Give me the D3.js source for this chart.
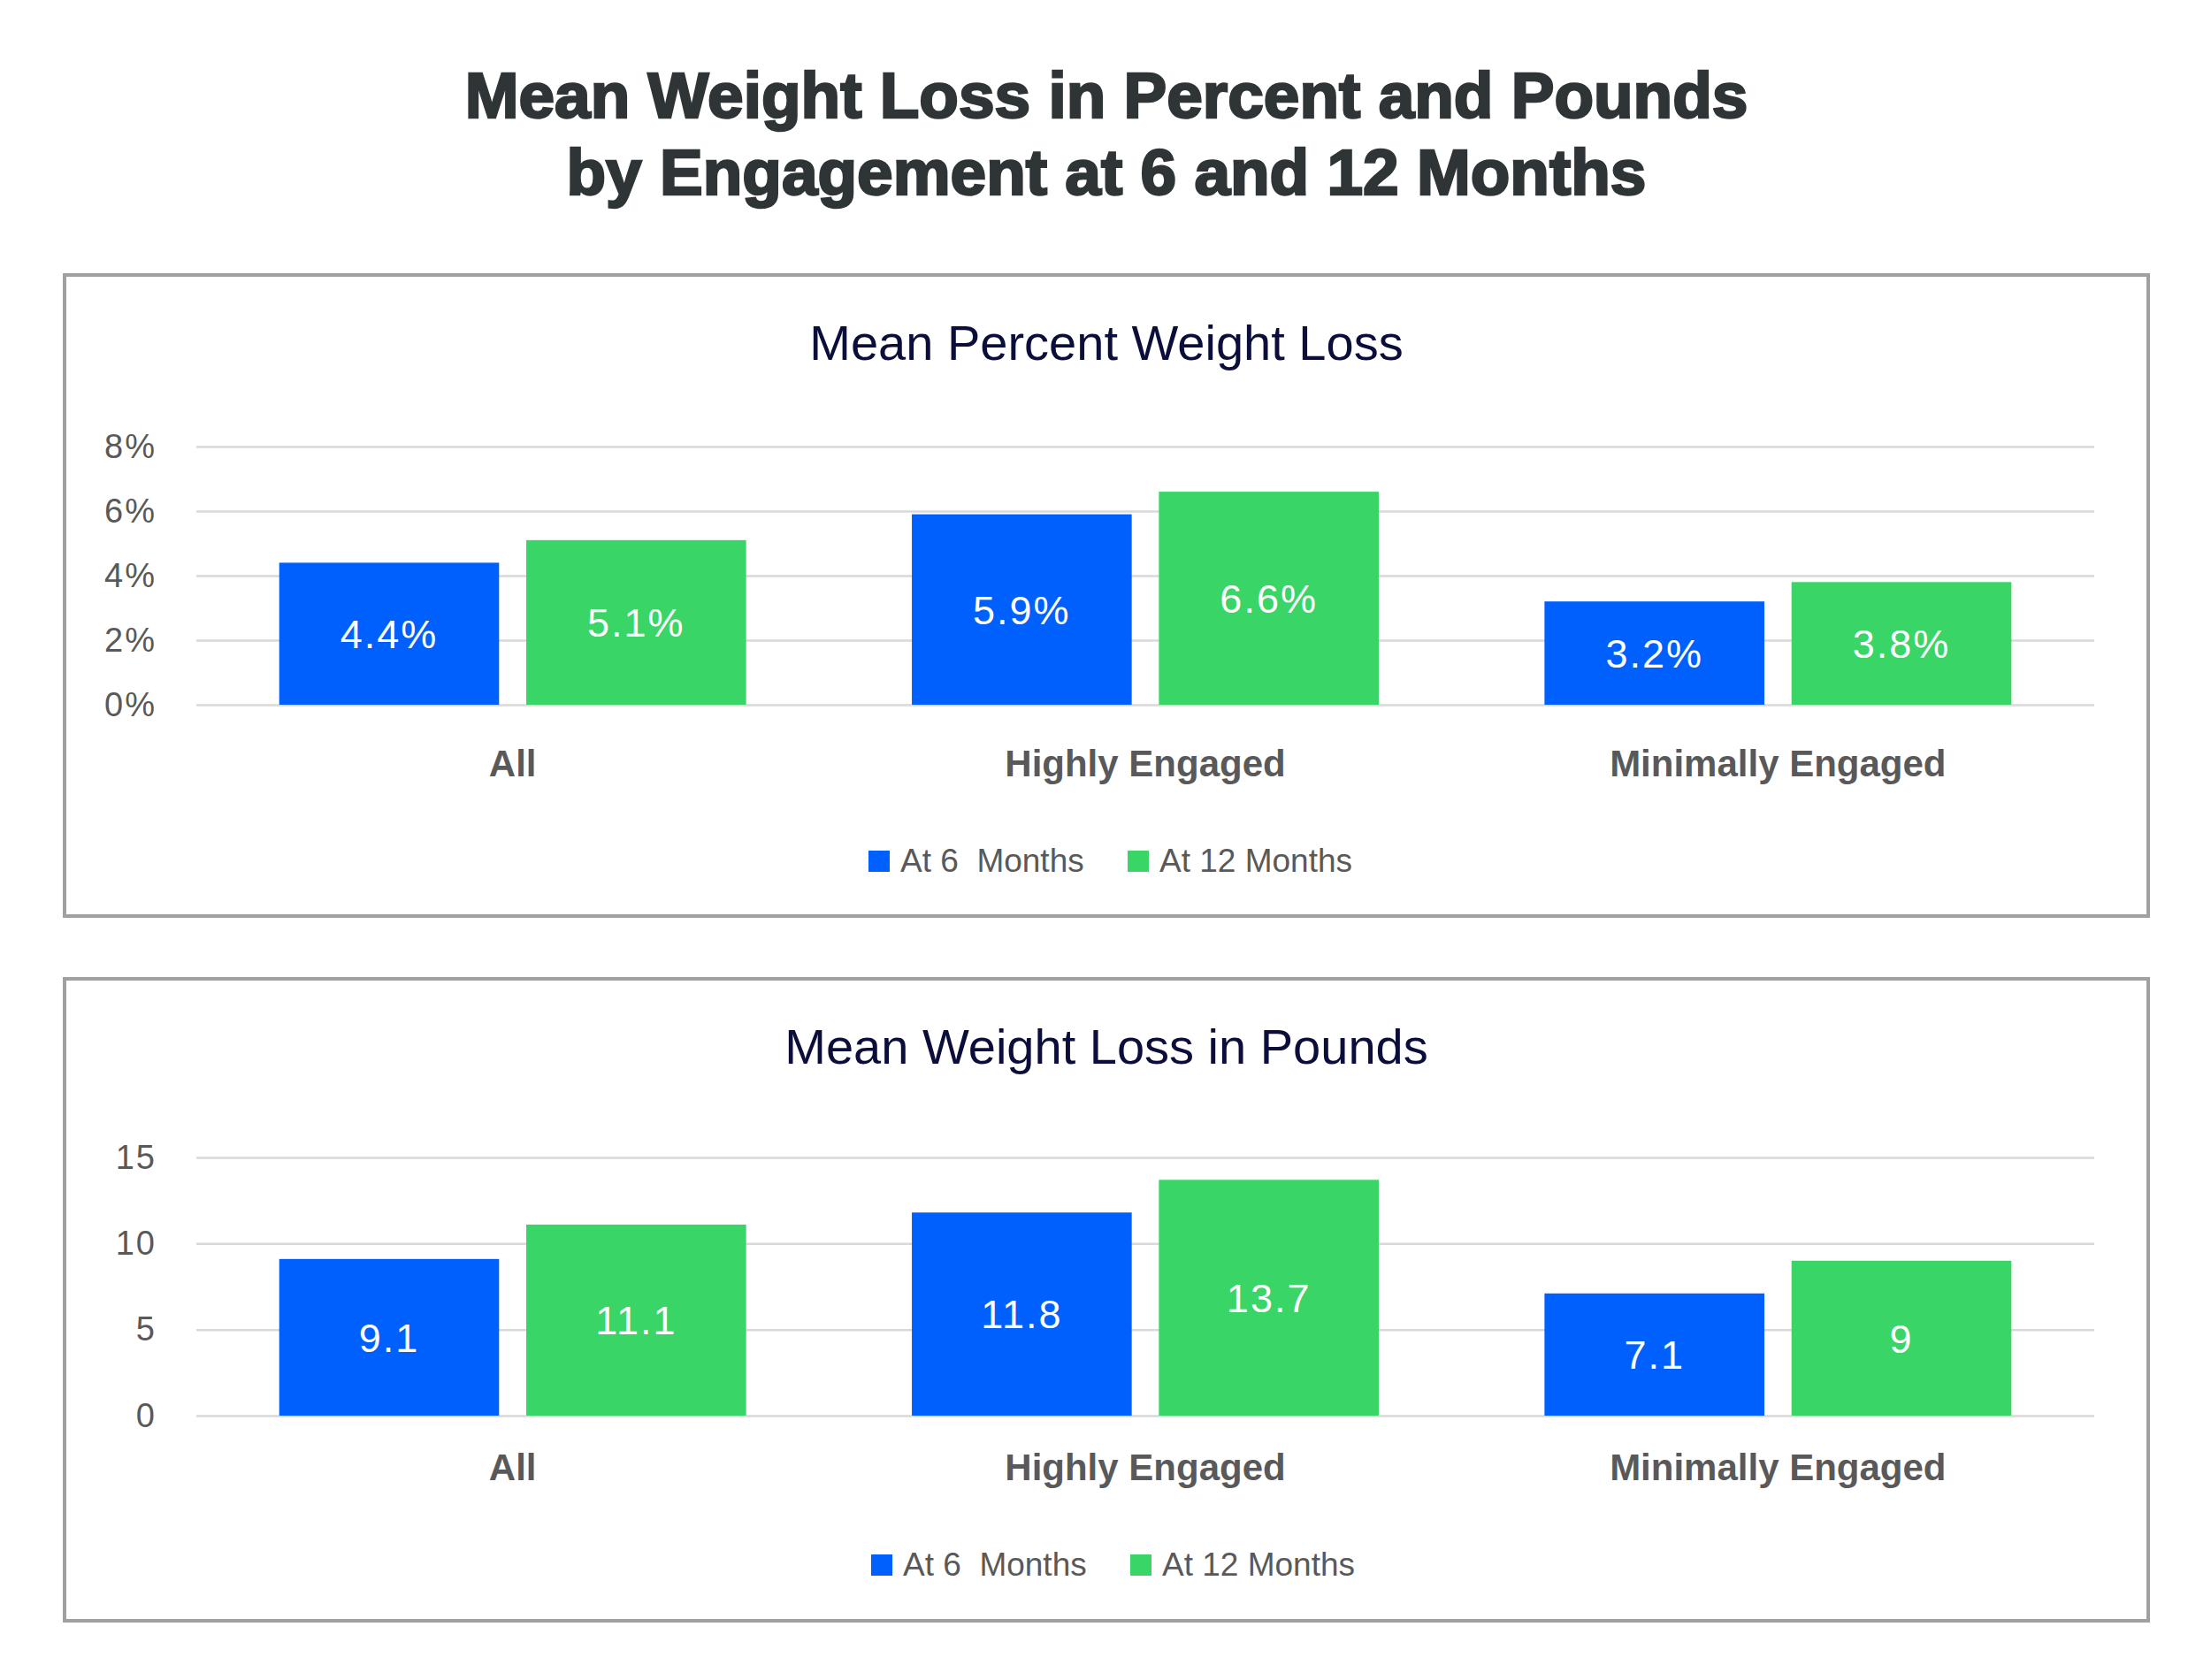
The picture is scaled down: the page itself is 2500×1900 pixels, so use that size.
<!DOCTYPE html>
<html lang="en">

<head>
  <meta charset="UTF-8">
  <title>Mean Weight Loss</title>
  <style>
    body { margin: 0; background: #fff; }
    text { font-family: "Liberation Sans", Arial, sans-serif; }
  </style>
</head>

<body>

  <script src="https://cdn.jsdelivr.net/npm/d3@7/dist/d3.min.js"></script>
  <script>
    var width = 2500;
    var height = 1900;

    // data
    var categories = ["All", "Highly Engaged", "Minimally Engaged"];
    var seriesNames = ["At 6  Months", "At 12 Months"];
    var percent6 = [4.4, 5.9, 3.2];
    var percent12 = [5.1, 6.6, 3.8];
    var pounds6 = [9.1, 11.8, 7.1];
    var pounds12 = [11.1, 13.7, 9];
    var percentTicks = [0, 2, 4, 6, 8];
    var poundTicks = [0, 5, 10, 15];

    var colors = ["#0060fe", "#39d566"];

    var left = 222, right = 2368;   // plot area
    var cx = 1251;

    var svg = d3.select("body")
      .append("svg")
      .attr("width", width)
      .attr("height", height);

    // main title
    var title = svg.append("text")
      .attr("text-anchor", "middle")
      .style("font-size", "73px")
      .style("font-weight", "bold")
      .style("fill", "#2f3437")
      .style("stroke", "#2f3437")
      .style("stroke-width", 2.5);
    title.append("tspan").attr("x", cx).attr("y", 133).text("Mean Weight Loss in Percent and Pounds");
    title.append("tspan").attr("x", cx).attr("y", 220).text("by Engagement at 6 and 12 Months");

    // one panel per measure
    var panels = [
      { top: 311, bottom: 1036, title: "Mean Percent Weight Loss", a: percent6, b: percent12,
        y0: 797, y1: 505, max: 8, ticks: percentTicks, legX: [982, 1275],
        fmt: function (d) { return d + "%"; } },
      { top: 1107, bottom: 1833, title: "Mean Weight Loss in Pounds", a: pounds6, b: pounds12,
        y0: 1601, y1: 1309, max: 15, ticks: poundTicks, legX: [985, 1278],
        fmt: function (d) { return String(d); } }
    ];

    var x0 = d3.scaleBand()
      .domain(categories)
      .range([left, right])
      .paddingInner(0.262)
      .paddingOuter(0.131);

    var x1 = d3.scaleBand()
      .domain([0, 1])
      .range([0, x0.bandwidth()])
      .paddingInner(0.11);

    panels.forEach(function (p) {
      var g = svg.append("g");

      g.append("rect")
        .attr("x", 73)
        .attr("y", p.top)
        .attr("width", 2429 - 73)
        .attr("height", p.bottom - p.top)
        .style("fill", "none")
        .style("stroke", "#a0a0a0")
        .style("stroke-width", 4);

      g.append("text")
        .attr("x", cx)
        .attr("y", p.top + 96)
        .attr("text-anchor", "middle")
        .style("font-size", "56px")
        .style("fill", "#0b0e3a")
        .text(p.title);

      var y = d3.scaleLinear()
        .domain([0, p.max])
        .range([p.y0, p.y1]);

      // gridlines + tick labels
      var yAxis = d3.axisLeft(y)
        .tickValues(p.ticks)
        .tickSize(-(right - left))
        .tickPadding(45)
        .tickFormat(p.fmt);

      var ax = g.append("g")
        .attr("transform", "translate(" + left + ",0)")
        .call(yAxis);
      ax.select(".domain").remove();
      ax.selectAll("line")
        .style("stroke", "#d9d9d9")
        .style("stroke-width", 2.5);
      ax.selectAll("text")
        .style("font-size", "38px")
        .style("letter-spacing", "2px")
        .style("font-family", "Liberation Sans, Arial, sans-serif")
        .style("fill", "#595959");

      var rows = categories.map(function (c, i) {
        return { cat: c, vals: [p.a[i], p.b[i]] };
      });

      var groups = g.selectAll(".grp")
        .data(rows)
        .enter()
        .append("g")
        .attr("transform", function (d) { return "translate(" + x0(d.cat) + ",0)"; });

      var cells = groups.selectAll("g")
        .data(function (d) { return d.vals.map(function (v, k) { return { k: k, v: v }; }); })
        .enter()
        .append("g");

      cells.append("rect")
        .attr("x", function (d) { return x1(d.k); })
        .attr("y", function (d) { return y(d.v); })
        .attr("width", x1.bandwidth())
        .attr("height", function (d) { return y(0) - y(d.v); })
        .style("fill", function (d) { return colors[d.k]; });

      cells.append("text")
        .attr("x", function (d) { return x1(d.k) + x1.bandwidth() / 2; })
        .attr("y", function (d) { return (y(0) + y(d.v)) / 2; })
        .attr("dy", "0.36em")
        .attr("text-anchor", "middle")
        .style("font-size", "45px")
        .style("letter-spacing", "2px")
        .style("fill", "#fff")
        .text(function (d) { return p.fmt(d.v); });

      // category labels
      g.selectAll(".cat")
        .data(categories)
        .enter()
        .append("text")
        .attr("x", function (d) { return x0(d) + x0.bandwidth() / 2; })
        .attr("y", p.top + 567)
        .attr("text-anchor", "middle")
        .style("font-size", "42px")
        .style("font-weight", "bold")
        .style("fill", "#595959")
        .text(function (d) { return d; });

      // legend
      var leg = g.selectAll(".leg")
        .data(seriesNames)
        .enter()
        .append("g")
        .attr("transform", function (d, i) { return "translate(" + p.legX[i] + "," + (p.top + 651) + ")"; });
      leg.append("rect")
        .attr("width", 24)
        .attr("height", 24)
        .style("fill", function (d, i) { return colors[i]; });
      leg.append("text")
        .attr("x", 36)
        .attr("y", 24)
        .style("font-size", "37px")
        .style("fill", "#595959")
        .style("white-space", "pre")
        .text(function (d) { return d; });
    });

  </script>
</body>

</html>
